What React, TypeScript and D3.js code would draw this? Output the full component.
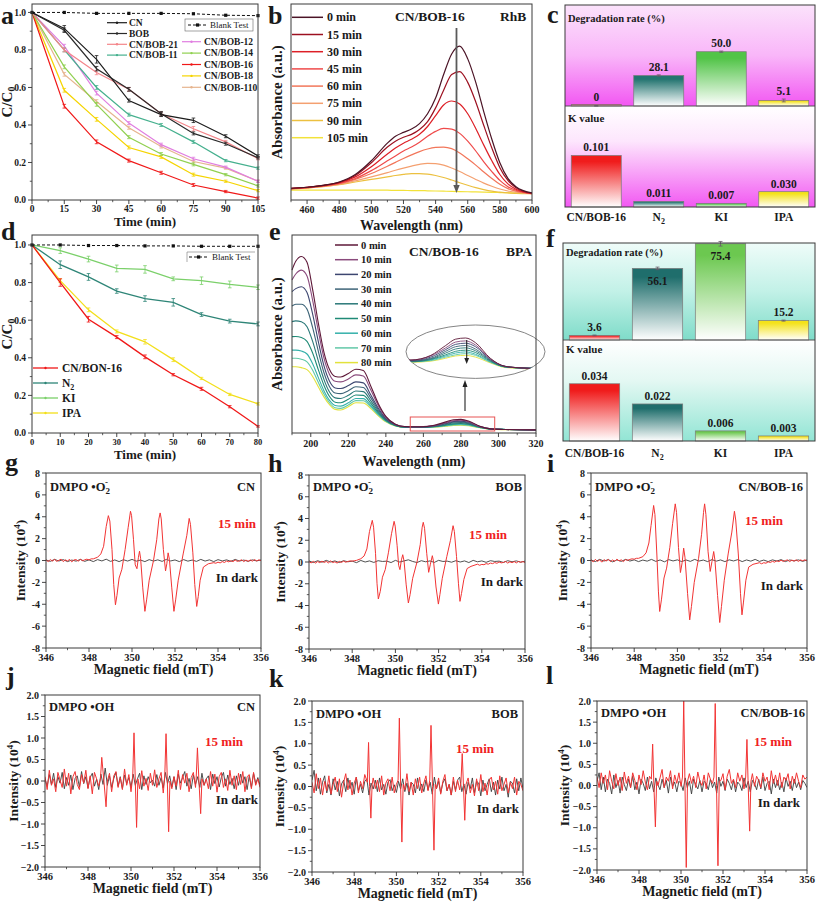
import React from 'react';
import * as d3 from 'd3';

const FONT = '"Liberation Serif","Times New Roman",Times,serif';
const INK = '#1a1a1a';
const AX = '#333333';

/* ---------- (a) RhB degradation ---------- */
const aTime = [0, 15, 30, 45, 60, 75, 90, 105];
const aCN = [1.0, 0.915, 0.75, 0.53, 0.455, 0.425, 0.34, 0.235];
const aBOB = [1.0, 0.905, 0.70, 0.59, 0.46, 0.355, 0.30, 0.225];
const aB21 = [1.0, 0.80, 0.68, 0.59, 0.46, 0.38, 0.31, 0.22];
const aB11 = [1.0, 0.80, 0.60, 0.455, 0.40, 0.31, 0.21, 0.17];
const aB12 = [1.0, 0.82, 0.57, 0.41, 0.295, 0.22, 0.175, 0.10];
const aB14 = [1.0, 0.71, 0.51, 0.335, 0.245, 0.19, 0.135, 0.075];
const aB16 = [1.0, 0.50, 0.31, 0.21, 0.145, 0.08, 0.045, 0.01];
const aB18 = [1.0, 0.585, 0.43, 0.28, 0.23, 0.135, 0.10, 0.05];
const aB110 = [1.0, 0.67, 0.525, 0.385, 0.285, 0.205, 0.17, 0.10];
const aBlank = [1.0, 1.0, 0.995, 0.995, 0.995, 0.993, 0.985, 0.983];
const aCNerr = [0, 0.015, 0.02, 0.008, 0.01, 0.012, 0.008, 0.006];
const aBOBerr = [0, 0.012, 0.012, 0.01, 0.012, 0.008, 0.008, 0.006];
const aB21err = [0, 0.01, 0.012, 0.01, 0.01, 0.012, 0.008, 0.006];
const aSmallErr = [0, 0.01, 0.01, 0.008, 0.008, 0.008, 0.006, 0.006];
const aXTicks = [0, 15, 30, 45, 60, 75, 90, 105];
const ccTicks = [0, 0.2, 0.4, 0.6, 0.8, 1.0];

/* ---------- (d) BPA degradation / scavengers ---------- */
const dTime = [0, 10, 20, 30, 40, 50, 60, 70, 80];
const dB16 = [1.0, 0.80, 0.605, 0.51, 0.405, 0.31, 0.235, 0.14, 0.035];
const dN2 = [1.0, 0.895, 0.83, 0.755, 0.715, 0.695, 0.63, 0.595, 0.58];
const dKI = [1.0, 0.97, 0.925, 0.875, 0.87, 0.82, 0.81, 0.79, 0.775];
const dIPA = [1.0, 0.81, 0.655, 0.54, 0.485, 0.39, 0.29, 0.205, 0.155];
const dBlank = [1.0, 1.0, 0.997, 0.997, 0.995, 0.995, 0.993, 0.993, 0.993];
const dB16err = [0, 0.02, 0.015, 0.008, 0.01, 0.006, 0.008, 0.006, 0.004];
const dN2err = [0, 0.02, 0.018, 0.012, 0.015, 0.02, 0.01, 0.01, 0.01];
const dKIerr = [0, 0.015, 0.015, 0.018, 0.02, 0.01, 0.02, 0.018, 0.012];
const dIPAerr = [0, 0.01, 0.01, 0.008, 0.012, 0.01, 0.006, 0.006, 0.006];
const dXTicks = [0, 10, 20, 30, 40, 50, 60, 70, 80];

/* ---------- (b) RhB spectra ---------- */
const bWave = [450, 460, 470, 480, 490, 500, 510, 515, 520, 525, 530, 535, 540, 545, 550, 555, 560, 565, 570, 575, 580, 585, 590, 600];
const b0 = [0.060, 0.065, 0.075, 0.092, 0.130, 0.200, 0.290, 0.325, 0.345, 0.362, 0.390, 0.440, 0.520, 0.640, 0.745, 0.785, 0.720, 0.600, 0.450, 0.310, 0.190, 0.110, 0.068, 0.036];
const b15 = [0.060, 0.065, 0.075, 0.090, 0.125, 0.190, 0.270, 0.300, 0.320, 0.335, 0.360, 0.400, 0.470, 0.560, 0.640, 0.655, 0.600, 0.500, 0.380, 0.265, 0.165, 0.100, 0.063, 0.035];
const b30 = [0.058, 0.064, 0.073, 0.088, 0.118, 0.170, 0.235, 0.265, 0.290, 0.310, 0.335, 0.375, 0.430, 0.485, 0.505, 0.490, 0.440, 0.365, 0.280, 0.200, 0.130, 0.082, 0.055, 0.034];
const b45 = [0.058, 0.063, 0.072, 0.085, 0.110, 0.150, 0.200, 0.225, 0.250, 0.270, 0.295, 0.325, 0.350, 0.365, 0.362, 0.340, 0.300, 0.250, 0.195, 0.145, 0.100, 0.068, 0.050, 0.033];
const b60 = [0.058, 0.063, 0.072, 0.083, 0.105, 0.135, 0.172, 0.192, 0.212, 0.230, 0.247, 0.260, 0.268, 0.270, 0.262, 0.240, 0.210, 0.178, 0.143, 0.110, 0.080, 0.058, 0.045, 0.032];
const b75 = [0.056, 0.062, 0.070, 0.080, 0.098, 0.118, 0.140, 0.152, 0.163, 0.173, 0.182, 0.187, 0.186, 0.178, 0.163, 0.145, 0.125, 0.105, 0.086, 0.070, 0.056, 0.046, 0.040, 0.032];
const b90 = [0.055, 0.061, 0.068, 0.078, 0.092, 0.105, 0.118, 0.125, 0.131, 0.135, 0.135, 0.132, 0.125, 0.115, 0.102, 0.088, 0.075, 0.063, 0.053, 0.045, 0.040, 0.036, 0.034, 0.032];
const b105 = [0.050, 0.050, 0.050, 0.050, 0.050, 0.050, 0.050, 0.049, 0.049, 0.048, 0.048, 0.047, 0.046, 0.045, 0.044, 0.043, 0.042, 0.041, 0.040, 0.039, 0.038, 0.037, 0.036, 0.035];
const bLabels = ['0 min', '15 min', '30 min', '45 min', '60 min', '75 min', '90 min', '105 min'];
const bXTicks = [460, 480, 500, 520, 540, 560, 580, 600];

/* ---------- (e) BPA spectra ---------- */
const eWave = [190, 192, 195, 198, 201, 204, 207, 210, 213, 216, 220, 224, 228, 232, 236, 240, 245, 250, 258, 266, 272, 276, 280, 284, 290, 296, 304, 320];
const e0 = [0.82, 0.865, 0.89, 0.86, 0.72, 0.55, 0.40, 0.31, 0.275, 0.272, 0.29, 0.312, 0.305, 0.225, 0.135, 0.07, 0.03, 0.018, 0.017, 0.025, 0.042, 0.053, 0.055, 0.047, 0.02, 0.006, 0.003, 0.001];
const e10 = [0.77, 0.80, 0.82, 0.79, 0.665, 0.51, 0.37, 0.285, 0.25, 0.247, 0.262, 0.283, 0.277, 0.205, 0.125, 0.066, 0.03, 0.018, 0.017, 0.024, 0.038, 0.048, 0.05, 0.043, 0.019, 0.006, 0.003, 0.001];
const e20 = [0.71, 0.725, 0.735, 0.705, 0.595, 0.455, 0.33, 0.25, 0.216, 0.213, 0.228, 0.247, 0.242, 0.18, 0.112, 0.06, 0.028, 0.017, 0.016, 0.022, 0.035, 0.044, 0.046, 0.04, 0.018, 0.006, 0.003, 0.001];
const e30 = [0.636, 0.645, 0.645, 0.62, 0.525, 0.405, 0.295, 0.222, 0.19, 0.187, 0.202, 0.222, 0.218, 0.165, 0.103, 0.056, 0.026, 0.016, 0.015, 0.02, 0.032, 0.04, 0.042, 0.036, 0.017, 0.006, 0.003, 0.001];
const e40 = [0.556, 0.56, 0.555, 0.53, 0.455, 0.355, 0.26, 0.195, 0.165, 0.162, 0.178, 0.2, 0.197, 0.15, 0.095, 0.053, 0.025, 0.016, 0.015, 0.019, 0.029, 0.036, 0.038, 0.033, 0.016, 0.005, 0.003, 0.001];
const e50 = [0.479, 0.48, 0.475, 0.455, 0.395, 0.31, 0.23, 0.172, 0.143, 0.14, 0.158, 0.18, 0.178, 0.137, 0.088, 0.05, 0.024, 0.015, 0.014, 0.018, 0.026, 0.032, 0.034, 0.03, 0.015, 0.005, 0.003, 0.001];
const e60 = [0.41, 0.41, 0.405, 0.39, 0.34, 0.27, 0.202, 0.152, 0.126, 0.123, 0.14, 0.162, 0.161, 0.126, 0.082, 0.047, 0.023, 0.015, 0.014, 0.017, 0.024, 0.029, 0.031, 0.027, 0.014, 0.005, 0.003, 0.001];
const e70 = [0.368, 0.368, 0.363, 0.35, 0.307, 0.245, 0.185, 0.14, 0.114, 0.111, 0.129, 0.151, 0.15, 0.118, 0.078, 0.045, 0.022, 0.015, 0.014, 0.016, 0.022, 0.026, 0.028, 0.025, 0.013, 0.005, 0.003, 0.001];
const e80 = [0.325, 0.325, 0.32, 0.31, 0.275, 0.222, 0.17, 0.13, 0.106, 0.103, 0.12, 0.14, 0.139, 0.11, 0.073, 0.042, 0.021, 0.014, 0.013, 0.015, 0.02, 0.024, 0.025, 0.022, 0.012, 0.004, 0.002, 0.0];
const eLabels = ['0 min', '10 min', '20 min', '30 min', '40 min', '50 min', '60 min', '70 min', '80 min'];
const eXTicks = [200, 220, 240, 260, 280, 300, 320];

/* ---------- (c), (f) bars ---------- */
const cats = ['CN/BOB-16', 'N2', 'KI', 'IPA'];
const cRate = [0, 28.1, 50.0, 5.1];
const cRateErr = [0.3, 0.6, 0.6, 1.3];
const cK = [0.101, 0.011, 0.007, 0.030];
const fRate = [3.6, 56.1, 75.4, 15.2];
const fRateErr = [0.3, 1.0, 1.8, 0.4];
const fK = [0.034, 0.022, 0.006, 0.003];

/* ---------- EPR: DMPO-O2- (g,h,i) ---------- */
const fieldTicks = [346, 348, 350, 352, 354, 356];
const o2Ticks = [-8, -6, -4, -2, 0, 2, 4, 6, 8];
const ohTicks = [-2, -1.5, -1, -0.5, 0, 0.5, 1, 1.5, 2];

const gPre = [0.05, -0.1, 0.08, -0.05, 0.1, -0.08, 0.02, 0.12, -0.1, 0.06, -0.04, 0.1, -0.12, 0.05, 0.08, -0.06, 0.1, -0.02, 0.06, 0.12, 0.05, 0.15];
const gPost = [-0.25, -0.15, -0.22, -0.1, -0.18, -0.05, -0.12, -0.02, -0.1, 0.04, -0.08, -0.02, 0.06, -0.1, 0.04, -0.08, 0.05, -0.06, 0.08, -0.04, 0.06, -0.02];
const gSig = [[348.2, 0.15], [348.4, 0.3], [348.55, 0.6], [348.68, 1.3], [348.8, 3.1], [348.9, 4.1], [348.97, 3.6], [349.07, 1.0], [349.15, -2.2], [349.23, -4.05], [349.3, -3.2], [349.4, -1.6], [349.53, -0.8], [349.68, 1.0], [349.82, 3.0], [349.93, 4.5], [349.98, 4.1], [350.07, 1.9], [350.15, -0.4], [350.23, -0.75], [350.3, 0.3], [350.35, 0.85], [350.4, 0.2], [350.5, -2.5], [350.6, -4.65], [350.68, -3.6], [350.8, -1.8], [351.0, 0.0], [351.15, 1.9], [351.25, 3.8], [351.31, 4.35], [351.36, 3.8], [351.46, 1.0], [351.56, -0.95], [351.62, -0.3], [351.68, 0.7], [351.74, 0.1], [351.85, -2.5], [351.95, -4.65], [352.03, -3.6], [352.15, -1.8], [352.38, 0.6], [352.55, 2.3], [352.66, 3.85], [352.72, 3.3], [352.83, 0.7], [352.92, -2.2], [353.01, -4.2], [353.08, -3.3], [353.17, -1.8], [353.32, -0.6], [353.55, -0.3], [353.8, -0.2]];
const gDark = [0.05, -0.08, 0.1, -0.05, 0.08, -0.1, 0.04, -0.06, 0.1, -0.08, 0.06, -0.1, 0.08, -0.04, 0.12, -0.08, 0.05, -0.1, 0.07, -0.05, 0.1, -0.06, 0.04, -0.1, 0.08, -0.05, 0.06, -0.08, 0.1, -0.04, 0.05, -0.1, 0.08, -0.06, 0.04, -0.08, 0.1, -0.05, 0.06, -0.1, 0.08, -0.04, 0.06, -0.08, 0.1, -0.05, 0.04, -0.08, 0.06, -0.04, 0.05];

const hPre = [0.02, -0.08, 0.06, -0.1, 0.04, -0.06, 0.08, -0.04, 0.05, -0.08, 0.1, -0.05, 0.02, -0.1, 0.06, -0.04, 0.08, -0.02, 0.05, 0.1, 0.08, 0.12];
const hPost = [-0.3, -0.22, -0.25, -0.15, -0.2, -0.1, -0.15, -0.05, -0.12, 0.0, -0.08, -0.04, 0.05, -0.1, 0.02, -0.06, 0.04, -0.08, 0.05, -0.02, 0.04, -0.05];
const hSig = [[348.2, 0.15], [348.4, 0.3], [348.55, 0.55], [348.68, 1.2], [348.8, 2.8], [348.93, 3.83], [348.99, 3.2], [349.08, 0.8], [349.15, -2.0], [349.21, -3.4], [349.3, -2.7], [349.4, -1.4], [349.53, -0.7], [349.68, 0.9], [349.82, 2.6], [349.94, 3.74], [349.99, 3.3], [350.08, 1.5], [350.15, -0.3], [350.21, -0.7], [350.28, 0.2], [350.34, 0.67], [350.4, 0.1], [350.5, -2.1], [350.6, -3.77], [350.68, -3.0], [350.8, -1.5], [351.0, 0.0], [351.15, 1.6], [351.24, 3.2], [351.29, 3.65], [351.35, 3.1], [351.45, 0.8], [351.54, -0.95], [351.62, -0.2], [351.71, 0.58], [351.77, 0.0], [351.88, -2.3], [351.99, -3.87], [352.06, -3.0], [352.17, -1.5], [352.38, 0.5], [352.55, 2.0], [352.67, 3.34], [352.73, 2.8], [352.83, 0.5], [352.92, -2.0], [352.99, -3.62], [353.06, -2.9], [353.17, -1.6], [353.32, -0.6], [353.5, -0.4], [353.8, -0.2]];
const hDark = [0.1, -0.05, 0.12, -0.02, 0.15, 0.0, 0.1, -0.05, 0.12, 0.02, 0.08, -0.06, 0.14, 0.0, 0.1, -0.04, 0.12, 0.05, 0.08, -0.05, 0.15, 0.0, 0.1, 0.2, 0.05, -0.05, 0.12, 0.02, 0.1, -0.04, 0.15, 0.05, 0.08, -0.02, 0.12, 0.0, 0.1, -0.05, 0.15, 0.02, 0.1, -0.03, 0.12, 0.05, 0.08, -0.04, 0.12, 0.02, 0.1, -0.02, 0.08];

const iPre = [0.05, -0.12, 0.1, -0.08, 0.06, -0.15, 0.08, -0.05, 0.1, -0.1, 0.05, -0.08, 0.12, -0.04, 0.06, -0.1, 0.08, 0.02, 0.1, 0.15, 0.12, 0.2];
const iPost = [-0.3, -0.2, -0.25, -0.12, -0.18, -0.08, -0.15, -0.02, -0.1, 0.02, -0.08, 0.0, 0.05, -0.1, 0.04, -0.06, 0.06, -0.08, 0.05, -0.02, 0.06, -0.04];
const iSig = [[348.2, 0.2], [348.4, 0.35], [348.55, 0.7], [348.68, 1.6], [348.78, 3.2], [348.9, 5.03], [348.96, 4.2], [349.05, 0.5], [349.12, -2.8], [349.18, -4.66], [349.26, -3.6], [349.38, -1.6], [349.5, -0.7], [349.65, 1.2], [349.78, 3.4], [349.9, 5.18], [349.96, 4.4], [350.05, 1.2], [350.14, -1.1], [350.22, -0.2], [350.29, 1.13], [350.35, 0.3], [350.47, -3.0], [350.57, -5.43], [350.65, -4.2], [350.78, -2.0], [350.98, 0.2], [351.12, 2.4], [351.21, 4.4], [351.26, 5.18], [351.32, 4.2], [351.42, 0.8], [351.52, -1.0], [351.6, -0.1], [351.68, 0.82], [351.74, 0.0], [351.86, -3.2], [351.96, -5.67], [352.04, -4.2], [352.17, -1.8], [352.35, 0.6], [352.52, 2.6], [352.64, 4.5], [352.7, 3.7], [352.82, 0.6], [352.92, -3.0], [352.99, -4.97], [353.06, -3.8], [353.17, -1.8], [353.3, -0.6], [353.5, -0.35], [353.8, -0.2]];
const iDark = [0.05, -0.1, 0.1, -0.05, 0.08, -0.12, 0.05, -0.08, 0.1, -0.05, 0.06, -0.1, 0.04, -0.06, 0.1, -0.08, 0.05, -0.12, 0.08, -0.04, 0.06, -0.1, 0.05, -0.08, 0.1, -0.05, 0.04, -0.1, 0.08, -0.06, 0.05, -0.1, 0.06, -0.04, 0.08, -0.1, 0.05, -0.06, 0.1, -0.08, 0.04, -0.1, 0.06, -0.05, 0.08, -0.1, 0.05, -0.04, 0.06, -0.08, 0.05];

/* ---------- EPR: DMPO-OH (j,k,l) ---------- */
const jRed = [0.1, -0.2, 0.25, -0.1, 0.05, -0.25, 0.2, 0.02, -0.15, 0.28, -0.12, 0.18, -0.3, 0.1, 0.22, -0.08, -0.2, 0.15, -0.05, 0.25, -0.18, 0.12, -0.3, 0.2, 0.05, -0.12, 0.26, -0.22, 0.1, -0.05, 0.18, -0.25, 0.12, 0.22, -0.15, 0.08, -0.2, 0.28, -0.1, 0.15, -0.25, 0.2, -0.05, 0.1, -0.18, 0.24, -0.12, 0.06, -0.22, 0.18, -0.1, 0.26, -0.15, 0.05, 0.2, -0.28, 0.12, -0.08, 0.22, -0.18, 0.1, -0.12, 0.25, -0.2, 0.15, -0.05, 0.18, -0.25, 0.08, 0.2, -0.15, 0.12, -0.22, 0.28, -0.1, 0.05, -0.18, 0.22, -0.12, 0.16, -0.26, 0.1, 0.2, -0.15, 0.05, -0.22, 0.25, -0.1, 0.12, -0.2, 0.18, -0.08, 0.22, -0.25, 0.1, 0.15, -0.18, 0.2, -0.1, 0.05, -0.15];
const jDark = [0.05, -0.12, 0.15, -0.08, 0.18, -0.15, 0.1, -0.05, 0.2, -0.18, 0.08, -0.1, 0.14, -0.2, 0.06, 0.12, -0.14, 0.22, -0.06, 0.1, -0.16, 0.08, 0.18, -0.12, 0.04, -0.2, 0.16, -0.08, 0.3, -0.1, 0.12, -0.15, 0.06, 0.2, -0.12, 0.1, -0.18, 0.14, -0.06, 0.08, -0.14, 0.16, -0.1, 0.05, 0.18, -0.2, 0.12, -0.08, 0.1, -0.04, 0.02, -0.12, 0.15, -0.1, 0.08, -0.16, 0.2, -0.06, 0.12, -0.14, 0.1, -0.2, 0.16, -0.05, 0.08, 0.22, -0.12, 0.06, -0.18, 0.14, -0.08, 0.1, -0.15, 0.18, -0.1, 0.05, 0.12, -0.2, 0.16, -0.06, 0.1, -0.14, 0.08, 0.2, -0.12, 0.14, -0.08, 0.06, -0.18, 0.12, -0.1, 0.16, -0.05, 0.1, -0.2, 0.12, -0.15, 0.18, -0.06, 0.08, -0.1];
const jPeaks = [
  [[348.58, 0.05], [348.64, 0.55], [348.74, 0.0], [348.84, -0.6], [348.9, 0.0]],
  [[350.08, 0.1], [350.14, 1.12], [350.2, 0.0], [350.26, -1.08], [350.32, 0.05]],
  [[351.57, 0.1], [351.63, 1.1], [351.69, 0.0], [351.75, -1.18], [351.81, 0.0]],
  [[353.03, 0.05], [353.09, 0.77], [353.16, 0.0], [353.24, -0.76], [353.3, 0.05]],
];
const kRed = [0.1, -0.15, 0.3, -0.05, 0.2, -0.2, 0.12, -0.1, 0.25, -0.18, 0.05, 0.22, -0.12, 0.18, -0.25, 0.1, 0.3, -0.08, 0.15, -0.2, 0.08, 0.22, -0.15, 0.12, -0.05, 0.28, -0.18, 0.1, -0.22, 0.2, -0.05, 0.15, -0.12, 0.25, -0.2, 0.08, 0.18, -0.1, 0.22, -0.15, 0.05, 0.2, -0.25, 0.12, -0.08, 0.3, -0.12, 0.1, -0.2, 0.18, -0.05, 0.22, -0.15, 0.08, 0.25, -0.1, 0.15, -0.22, 0.1, -0.05, 0.2, -0.18, 0.12, 0.28, -0.1, 0.05, -0.2, 0.22, -0.12, 0.15, -0.08, 0.25, -0.18, 0.1, 0.2, -0.15, 0.05, -0.22, 0.18, -0.1, 0.28, -0.12, 0.08, -0.2, 0.15, 0.22, -0.08, 0.12, -0.18, 0.25, -0.1, 0.05, 0.2, -0.15, 0.1, -0.05, 0.22, -0.2, 0.12, 0.05, -0.1];
const kDark = [0.15, 0.38, -0.1, 0.2, -0.18, 0.1, 0.25, -0.15, 0.05, -0.2, 0.18, -0.08, 0.12, -0.22, 0.06, 0.15, -0.12, 0.2, -0.05, 0.1, -0.18, 0.22, -0.1, 0.05, -0.15, 0.12, 0.18, -0.2, 0.08, -0.06, 0.15, -0.12, 0.2, -0.08, 0.05, -0.18, 0.1, 0.16, -0.1, 0.04, -0.14, 0.12, -0.06, 0.18, -0.12, 0.08, -0.2, 0.1, 0.05, -0.15, 0.2, -0.1, 0.06, -0.12, 0.15, -0.08, 0.1, -0.18, 0.22, -0.05, 0.12, -0.15, 0.08, 0.18, -0.1, 0.05, -0.2, 0.12, -0.08, 0.15, 0.22, -0.12, 0.06, -0.18, 0.1, -0.05, 0.2, -0.15, 0.12, 0.08, -0.22, 0.15, -0.1, 0.05, 0.18, -0.12, 0.1, -0.2, 0.15, -0.06, 0.22, -0.1, 0.05, -0.25, 0.12, 0.08, -0.15, 0.18, -0.1, 0.2, -0.05];
const kPeaks = [
  [[348.62, 0.1], [348.68, 1.03], [348.73, 0.0], [348.79, -0.74], [348.85, 0.05]],
  [[350.08, 0.15], [350.14, 1.6], [350.2, 0.0], [350.26, -1.3], [350.32, 0.05]],
  [[351.58, 0.15], [351.64, 1.43], [351.71, 0.0], [351.78, -1.49], [351.84, 0.05]],
  [[353.06, 0.1], [353.12, 0.77], [353.18, 0.0], [353.24, -0.79], [353.3, 0.05]],
];
const lRed = [0.2, -0.05, 0.3, 0.05, 0.25, -0.1, 0.35, 0.1, -0.08, 0.28, 0.0, 0.2, -0.12, 0.32, 0.05, 0.22, -0.05, 0.3, 0.12, -0.1, 0.25, 0.02, 0.35, 0.08, -0.1, 0.22, 0.15, -0.05, 0.3, 0.0, 0.18, 0.38, -0.05, 0.2, 0.1, 0.35, -0.08, 0.25, 0.05, 0.3, -0.02, 0.2, 0.12, -0.1, 0.28, 0.05, 0.22, -0.05, 0.32, 0.1, 0.0, 0.25, -0.08, 0.3, 0.15, 0.05, 0.35, -0.05, 0.2, 0.12, 0.28, -0.1, 0.22, 0.38, 0.05, 0.15, -0.05, 0.3, 0.1, 0.25, -0.08, 0.2, 0.5, 0.05, 0.28, -0.02, 0.22, 0.12, -0.05, 0.3, 0.1, 0.2, -0.1, 0.35, 0.05, 0.25, 0.0, 0.3, -0.05, 0.2, 0.12, 0.28, -0.08, 0.22, 0.05, 0.3, 0.1, -0.05, 0.25, 0.15, 0.2];
const lDark = [0.1, 0.3, -0.1, 0.2, -0.15, 0.15, 0.05, -0.2, 0.25, -0.05, 0.12, -0.18, 0.2, 0.02, -0.12, 0.15, -0.05, 0.22, -0.1, 0.08, -0.2, 0.15, 0.05, -0.12, 0.2, -0.08, 0.1, -0.15, 0.18, 0.02, -0.1, 0.15, -0.05, 0.12, -0.18, 0.2, -0.02, 0.08, -0.15, 0.1, 0.05, -0.12, 0.18, -0.05, 0.1, -0.2, 0.15, 0.02, -0.08, 0.12, -0.15, 0.1, 0.05, -0.1, 0.15, -0.05, 0.08, -0.18, 0.2, -0.02, 0.1, -0.12, 0.15, 0.05, -0.1, 0.12, -0.15, 0.08, 0.02, -0.12, 0.18, -0.05, 0.1, -0.15, 0.12, 0.05, -0.1, 0.15, -0.08, 0.2, -0.12, 0.05, 0.1, -0.2, 0.15, -0.05, 0.12, -0.1, 0.08, -0.15, 0.18, -0.02, 0.1, -0.12, 0.15, -0.05, 0.08, -0.1, 0.12, 0.05, -0.05];
const lPeaks = [
  [[348.59, 0.15], [348.65, 0.98], [348.71, 0.0], [348.78, -0.98], [348.84, 0.1]],
  [[350.07, 0.2], [350.13, 2.0], [350.19, 0.0], [350.25, -1.94], [350.31, 0.1]],
  [[351.57, 0.2], [351.63, 1.94], [351.69, 0.0], [351.76, -1.9], [351.82, 0.1]],
  [[353.08, 0.2], [353.14, 1.09], [353.2, 0.0], [353.27, -1.08], [353.33, 0.1]],
];

/* ================= helpers ================= */
function Txt(p: any) {
  const { x, y, size = 11, anchor = 'start', fill = INK, rotate, children, weight = 'bold' } = p;
  return (
    <text x={x} y={y} fontSize={size} fontWeight={weight} fill={fill} textAnchor={anchor} fontFamily={FONT}
      transform={rotate != null ? `rotate(${rotate} ${x} ${y})` : undefined}>{children}</text>
  );
}

function XAxis({ s, y, major, minor = [], fmt = (v: any) => String(v), size = 10, len = 4, dy = 12.5 }: any) {
  return (
    <g>
      {minor.map((v: number, i: number) => <line key={'n' + i} x1={s(v)} x2={s(v)} y1={y} y2={y + len * 0.55} stroke={AX} strokeWidth={0.8} />)}
      {major.map((v: number, i: number) => (
        <g key={i}>
          <line x1={s(v)} x2={s(v)} y1={y} y2={y + len} stroke={AX} strokeWidth={0.9} />
          <Txt x={s(v)} y={y + dy} size={size} anchor="middle">{fmt(v)}</Txt>
        </g>
      ))}
    </g>
  );
}

function YAxis({ s, x, major, minor = [], fmt = (v: any) => String(v), size = 10, len = 4 }: any) {
  return (
    <g>
      {minor.map((v: number, i: number) => <line key={'n' + i} x1={x} x2={x - len * 0.55} y1={s(v)} y2={s(v)} stroke={AX} strokeWidth={0.8} />)}
      {major.map((v: number, i: number) => (
        <g key={i}>
          <line x1={x} x2={x - len} y1={s(v)} y2={s(v)} stroke={AX} strokeWidth={0.9} />
          <Txt x={x - len - 2} y={s(v) + size * 0.35} size={size} anchor="end">{fmt(v)}</Txt>
        </g>
      ))}
    </g>
  );
}

function Frame({ L, Tp, R, B }: any) {
  return <rect x={L} y={Tp} width={R - L} height={B - Tp} fill="none" stroke="#3a3a3a" strokeWidth={1} />;
}

function ErrBars({ xs, ys, es, sx, sy, color, cap = 1.8 }: any) {
  return (
    <g>
      {ys.map((v: number, i: number) => {
        if (!es[i]) return null;
        const x = sx(xs[i]);
        const y1 = sy(v - es[i]);
        const y2 = sy(v + es[i]);
        return (
          <g key={i} stroke={color} strokeWidth={0.8}>
            <line x1={x} x2={x} y1={y1} y2={y2} />
            <line x1={x - cap} x2={x + cap} y1={y1} y2={y1} />
            <line x1={x - cap} x2={x + cap} y1={y2} y2={y2} />
          </g>
        );
      })}
    </g>
  );
}

function Letter({ x, y, ch }: any) {
  return <Txt x={x} y={y} size={26}>{ch}</Txt>;
}

const fmt1 = d3.format('.1f');

/* ================= (a) ================= */
function PanelA() {
  const L = 32, R = 258, Tp = 4, B = 200;
  const sx = d3.scaleLinear().domain([0, 105]).range([L, R]);
  const sy = d3.scaleLinear().domain([0, 1.045]).range([B, Tp]);
  const line = (vals: number[]) => d3.line<number>().x((_, i) => sx(aTime[i])).y(d => sy(d))(vals) as string;
  const series = [
    { n: 'CN', v: aCN, e: aCNerr, c: '#1c1c1c' },
    { n: 'BOB', v: aBOB, e: aBOBerr, c: '#2a2a2a' },
    { n: 'CN/BOB-21', v: aB21, e: aB21err, c: '#f4858a' },
    { n: 'CN/BOB-11', v: aB11, e: aSmallErr, c: '#45b08e' },
    { n: 'CN/BOB-12', v: aB12, e: aSmallErr, c: '#e07ee0' },
    { n: 'CN/BOB-14', v: aB14, e: aSmallErr, c: '#90d050' },
    { n: 'CN/BOB-16', v: aB16, e: aSmallErr, c: '#f01818' },
    { n: 'CN/BOB-18', v: aB18, e: aSmallErr, c: '#f5d400' },
    { n: 'CN/BOB-110', v: aB110, e: aSmallErr, c: '#e6b48e' },
  ];
  const col1 = series.slice(0, 4);
  const col2 = series.slice(4);
  return (
    <g>
      <rect x={L} y={Tp} width={R - L} height={B - Tp} fill="#fff" />
      {[...series].reverse().map((s, i) => (
        <g key={i}>
          <path d={line(s.v)} fill="none" stroke={s.c} strokeWidth={1.2} />
          <ErrBars xs={aTime} ys={s.v} es={s.e} sx={sx} sy={sy} color={s.c} />
        </g>
      ))}
      <path d={line(aBlank)} fill="none" stroke="#111" strokeWidth={1} strokeDasharray="3,2" />
      {aBlank.map((v, i) => <rect key={i} x={sx(aTime[i]) - 1.6} y={sy(v) - 1.6} width={3.2} height={3.2} fill="#111" />)}
      <Frame L={L} Tp={Tp} R={R} B={B} />
      <XAxis s={sx} y={B} major={aXTicks} minor={[7.5, 22.5, 37.5, 52.5, 67.5, 82.5, 97.5]} size={9.5} dy={11.5} />
      <YAxis s={sy} x={L} major={ccTicks} minor={[0.1, 0.3, 0.5, 0.7, 0.9]} fmt={fmt1} size={9.5} />
      {col1.map((s, i) => {
        const y = 22.7 + i * 10.8;
        return (
          <g key={i}>
            <line x1={107} x2={127} y1={y} y2={y} stroke={s.c} strokeWidth={1.2} />
            <circle cx={117} cy={y} r={1.2} fill={s.c} />
            <Txt x={129} y={y + 3.3} size={9.5}>{s.n}</Txt>
          </g>
        );
      })}
      {col2.map((s, i) => {
        const y = 41.7 + i * 11.4;
        return (
          <g key={i}>
            <line x1={182} x2={201} y1={y} y2={y} stroke={s.c} strokeWidth={1.2} />
            <circle cx={191.5} cy={y} r={1.2} fill={s.c} />
            <Txt x={204} y={y + 3.3} size={9.5}>{s.n}</Txt>
          </g>
        );
      })}
      <rect x={185} y={19} width={68} height={12} fill="#fff" stroke="#666" strokeWidth={0.6} />
      <line x1={188} x2={207} y1={25} y2={25} stroke="#111" strokeDasharray="3,2" />
      <rect x={196} y={23.4} width={3.2} height={3.2} fill="#111" />
      <Txt x={210} y={28.3} size={9} weight="normal">Blank Test</Txt>
      <Txt x={12} y={(Tp + B) / 2} size={15} anchor="middle" rotate={-90}>C/C<tspan dy={3} fontSize={10}>0</tspan></Txt>
      <Txt x={(L + R) / 2} y={226} size={13} anchor="middle">Time (min)</Txt>
      <Letter x={1} y={24} ch="a" />
    </g>
  );
}

/* ================= (d) ================= */
function PanelD() {
  const L = 32, R = 258, Tp = 235, B = 433;
  const sx = d3.scaleLinear().domain([0, 80]).range([L, R]);
  const sy = d3.scaleLinear().domain([0, 1.053]).range([B, Tp]);
  const line = (vals: number[]) => d3.line<number>().x((_, i) => sx(dTime[i])).y(d => sy(d))(vals) as string;
  const series = [
    { n: 'CN/BON-16', v: dB16, e: dB16err, c: '#f01818' },
    { n: 'N2', v: dN2, e: dN2err, c: '#2e8577' },
    { n: 'KI', v: dKI, e: dKIerr, c: '#7bd06a' },
    { n: 'IPA', v: dIPA, e: dIPAerr, c: '#f3df1a' },
  ];
  const ly = [368, 383, 398, 413];
  return (
    <g>
      {[...series].reverse().map((s, i) => (
        <g key={i}>
          <path d={line(s.v)} fill="none" stroke={s.c} strokeWidth={1.3} />
          <ErrBars xs={dTime} ys={s.v} es={s.e} sx={sx} sy={sy} color={s.c} />
        </g>
      ))}
      <path d={line(dBlank)} fill="none" stroke="#111" strokeWidth={1} strokeDasharray="3,2" />
      {dBlank.map((v, i) => <rect key={i} x={sx(dTime[i]) - 1.6} y={sy(v) - 1.6} width={3.2} height={3.2} fill="#111" />)}
      <Frame L={L} Tp={Tp} R={R} B={B} />
      <XAxis s={sx} y={B} major={dXTicks} minor={[5, 15, 25, 35, 45, 55, 65, 75]} size={8.5} dy={12} />
      <YAxis s={sy} x={L} major={ccTicks} minor={[0.1, 0.3, 0.5, 0.7, 0.9]} fmt={fmt1} size={9.5} />
      <line x1={187} x2={255} y1={252} y2={252} stroke="#777" strokeWidth={0.6} />
      <line x1={187} x2={187} y1={252} y2={262} stroke="#777" strokeWidth={0.6} />
      <line x1={189} x2={208} y1={257} y2={257} stroke="#111" strokeDasharray="3,2" />
      <rect x={197} y={255.4} width={3.2} height={3.2} fill="#111" />
      <Txt x={212} y={260.3} size={9} weight="normal">Blank Test</Txt>
      {series.map((s, i) => (
        <g key={i}>
          <line x1={33} x2={58} y1={ly[i]} y2={ly[i]} stroke={s.c} strokeWidth={1.3} />
          <circle cx={45.5} cy={ly[i]} r={1.2} fill={s.c} />
          <Txt x={62} y={ly[i] + 4} size={11.5}>
            {s.n === 'N2' ? <>N<tspan dy={3} fontSize={8}>2</tspan></> : s.n}
          </Txt>
        </g>
      ))}
      <Txt x={12} y={(Tp + B) / 2} size={15} anchor="middle" rotate={-90}>C/C<tspan dy={3} fontSize={10}>0</tspan></Txt>
      <Txt x={(L + R) / 2} y={459} size={13} anchor="middle">Time (min)</Txt>
      <Letter x={1} y={240} ch="d" />
    </g>
  );
}

/* ================= (b) ================= */
function PanelB() {
  const L = 291, R = 532, Tp = 4, B = 200;
  const sx = d3.scaleLinear().domain([450, 600]).range([L, R]);
  const sy = d3.scaleLinear().domain([0, 1]).range([B, Tp]);
  const curves = [b0, b15, b30, b45, b60, b75, b90, b105];
  const colors = ['#4b1426', '#9c1020', '#dd1f26', '#ef4a4a', '#f2765a', '#f4a070', '#ecc040', '#f2e23a'];
  const line = (vals: number[]) => d3.line<number>().x((_, i) => sx(bWave[i])).y(d => sy(d)).curve(d3.curveMonotoneX)(vals) as string;
  const ax = sx(553);
  return (
    <g>
      {curves.map((c, i) => <path key={i} d={line(c)} fill="none" stroke={colors[i]} strokeWidth={1.2} />).reverse()}
      <line x1={ax} x2={ax} y1={28} y2={186} stroke="#5a5a5a" strokeWidth={1.8} />
      <polygon points={`${ax - 3.2},${185} ${ax + 3.2},${185} ${ax},${193}`} fill="#5a5a5a" />
      <Frame L={L} Tp={Tp} R={R} B={B} />
      <XAxis s={sx} y={B} major={bXTicks} minor={[450, 470, 490, 510, 530, 550, 570, 590]} size={10} />
      {bLabels.map((t, i) => {
        const y = 17.3 + i * 17.2;
        return (
          <g key={i}>
            <line x1={292} x2={323} y1={y} y2={y} stroke={colors[i]} strokeWidth={1.5} />
            <Txt x={327} y={y + 4} size={12}>{t}</Txt>
          </g>
        );
      })}
      <Txt x={395} y={20.5} size={13.5}>CN/BOB-16</Txt>
      <Txt x={500} y={20.5} size={13.5}>RhB</Txt>
      <Txt x={282} y={(Tp + B) / 2} size={15} anchor="middle" rotate={-90}>Absorbance (a.u.)</Txt>
      <Txt x={(L + R) / 2} y={230} size={14} anchor="middle">Wavelength (nm)</Txt>
      <Letter x={268} y={24} ch="b" />
    </g>
  );
}

/* ================= (e) ================= */
function PanelE() {
  const L = 292, R = 536, Tp = 235, B = 433;
  const sx = d3.scaleLinear().domain([190, 320]).range([L, R]);
  const sy = d3.scaleLinear().domain([-0.015, 1]).range([B, Tp]);
  const curves = [e0, e10, e20, e30, e40, e50, e60, e70, e80];
  const colors = ['#5e1838', '#8a4a7c', '#3c4670', '#3d6478', '#2a7878', '#1f8a76', '#34b0aa', '#62c8a8', '#e2e23c'];
  const line = (vals: number[]) => d3.line<number>().x((_, i) => sx(eWave[i])).y(d => sy(d)).curve(d3.curveMonotoneX)(vals) as string;
  const ix = d3.scaleLinear().domain([256, 306]).range([406, 530]);
  const iy = d3.scaleLinear().domain([0.017, 0.055]).range([360, 338]);
  const idx = eWave.map((w, i) => i).filter(i => eWave[i] >= 250);
  const iline = (vals: number[]) => d3.line<number>().x(i => ix(eWave[i])).y(i => iy(vals[i])).curve(d3.curveMonotoneX)(idx) as string;
  return (
    <g>
      <defs>
        <clipPath id="eClip"><ellipse cx={475.5} cy={351.7} rx={69.5} ry={26.7} /></clipPath>
      </defs>
      {curves.map((c, i) => <path key={i} d={line(c)} fill="none" stroke={colors[i]} strokeWidth={1.1} />).reverse()}
      <rect x={sx(253)} y={417} width={sx(298) - sx(253)} height={14} fill="none" stroke="#e85454" strokeWidth={1} />
      <ellipse cx={475.5} cy={351.7} rx={69.5} ry={26.7} fill="#fff" stroke="#777" strokeWidth={0.9} />
      <g clipPath="url(#eClip)">
        {curves.map((c, i) => <path key={i} d={iline(c)} fill="none" stroke={colors[i]} strokeWidth={0.9} />).reverse()}
      </g>
      <line x1={466.7} x2={466.7} y1={340} y2={359} stroke="#222" strokeWidth={1.1} />
      <polygon points="464.3,358 469.1,358 466.7,364" fill="#222" />
      <line x1={465} x2={465} y1={411} y2={386} stroke="#222" strokeWidth={1.1} />
      <polygon points="462.5,387 467.5,387 465,380" fill="#222" />
      <Frame L={L} Tp={Tp} R={R} B={B} />
      <XAxis s={sx} y={B} major={eXTicks} minor={[190, 210, 230, 250, 270, 290, 310]} size={10} dy={14} />
      {eLabels.map((t, i) => {
        const y = 245 + i * 14.7;
        return (
          <g key={i}>
            <line x1={335} x2={358} y1={y} y2={y} stroke={colors[i]} strokeWidth={1.5} />
            <Txt x={361} y={y + 3.6} size={10.5}>{t}</Txt>
          </g>
        );
      })}
      <Txt x={409} y={256} size={13.5}>CN/BOB-16</Txt>
      <Txt x={506} y={256} size={13.5}>BPA</Txt>
      <Txt x={282} y={(Tp + B) / 2} size={15} anchor="middle" rotate={-90}>Absorbance (a.u.)</Txt>
      <Txt x={(L + R) / 2} y={466} size={14} anchor="middle">Wavelength (nm)</Txt>
      <Letter x={269} y={240} ch="e" />
    </g>
  );
}

/* ================= (c)/(f) ================= */
function BarPanel(p: any) {
  const { id, L, R, Tp, M, B, rate, rateErr, kv, rateMax, kMax, bgTop, bgBot, barColors, catY, insideMin, head1, head2, letter } = p;
  const bx = d3.scaleBand<string>().domain(cats).range([L, R]).paddingInner(0.2).paddingOuter(0.1);
  const y1 = d3.scaleLinear().domain([0, rateMax]).range([M, Tp]);
  const y2 = d3.scaleLinear().domain([0, kMax]).range([B, M]);
  const bw = bx.bandwidth();
  const stops = (arr: any[]) => arr.map((s: any, i: number) => <stop key={i} offset={s[0]} stopColor={s[1]} />);
  return (
    <g>
      <defs>
        <linearGradient id={id + 'bt'} x1="0" y1="0" x2="0" y2="1">{stops(bgTop)}</linearGradient>
        <linearGradient id={id + 'bb'} x1="0" y1="0" x2="0" y2="1">{stops(bgBot)}</linearGradient>
        {barColors.map((c: string, i: number) => (
          <linearGradient key={i} id={id + 'g' + i} x1="0" y1="0" x2="0" y2="1">
            <stop offset="0" stopColor={c} />
            <stop offset="0.12" stopColor={c} />
            <stop offset="1" stopColor="#ffffff" />
          </linearGradient>
        ))}
      </defs>
      <rect x={L} y={Tp} width={R - L} height={M - Tp} fill={`url(#${id}bt)`} />
      <rect x={L} y={M} width={R - L} height={B - M} fill={`url(#${id}bb)`} />
      {rate.map((v: number, i: number) => {
        const x = bx(cats[i]) as number;
        const yt = Math.min(y1(v), M - 1.5);
        const inside = v > insideMin;
        const ey1 = y1(v + rateErr[i]);
        const ey2 = y1(Math.max(0, v - rateErr[i]));
        const lab = v === 0 ? '0' : v.toFixed(1);
        return (
          <g key={'r' + i}>
            <rect x={x} y={yt} width={bw} height={M - yt} fill={`url(#${id}g${i})`} stroke="#7a7a7a" strokeWidth={0.7} />
            <g stroke="#6a5a6a" strokeWidth={0.8}>
              <line x1={x + bw / 2} x2={x + bw / 2} y1={ey1} y2={ey2} />
              <line x1={x + bw / 2 - 2} x2={x + bw / 2 + 2} y1={ey1} y2={ey1} />
              <line x1={x + bw / 2 - 2} x2={x + bw / 2 + 2} y1={ey2} y2={ey2} />
            </g>
            <Txt x={x + bw / 2} y={inside ? yt + 16.5 : Math.min(yt, ey1) - 4} size={11.5} anchor="middle">{lab}</Txt>
          </g>
        );
      })}
      {kv.map((v: number, i: number) => {
        const x = bx(cats[i]) as number;
        const yt = y2(v);
        return (
          <g key={'k' + i}>
            <rect x={x} y={yt} width={bw} height={B - yt} fill={`url(#${id}g${i})`} stroke="#7a7a7a" strokeWidth={0.7} />
            <Txt x={x + bw / 2} y={yt - 4} size={11.5} anchor="middle">{v.toFixed(3)}</Txt>
          </g>
        );
      })}
      <line x1={L} x2={R} y1={M} y2={M} stroke="#555" strokeWidth={1} />
      <Frame L={L} Tp={Tp} R={R} B={B} />
      <Txt x={head1[0]} y={head1[1]} size={10.5}>Degradation rate (%)</Txt>
      <Txt x={head2[0]} y={head2[1]} size={11}>K value</Txt>
      {cats.map((c, i) => (
        <Txt key={i} x={(bx(c) as number) + bw / 2} y={catY} size={11.5} anchor="middle">
          {c === 'N2' ? <>N<tspan dy={3} fontSize={8}>2</tspan></> : c}
        </Txt>
      ))}
      <Letter x={letter[0]} y={letter[1]} ch={letter[2]} />
    </g>
  );
}

/* ================= EPR ================= */
function grid(vals: number[], a: number, b: number) {
  const n = vals.length;
  return vals.map((v, i) => [a + ((b - a) * i) / (n - 1), v]);
}
function merge(base: number[][], clusters: number[][][]) {
  const kept = base.filter(([x]) => !clusters.some(c => x >= c[0][0] - 0.02 && x <= c[c.length - 1][0] + 0.02));
  return kept.concat(...clusters).sort((p, q) => p[0] - q[0]);
}

function EPR(p: any) {
  const { id, L, R, Tp, B, yMax, yMajor, yMinor, yFmt, dark, red, o2, sample, dmpoY, min15, dark15, ytx, letter } = p;
  const sx = d3.scaleLinear().domain([346, 356]).range([L, R]);
  const sy = d3.scaleLinear().domain([-yMax, yMax]).range([B, Tp]);
  const ln = d3.line<number[]>().x(d => sx(d[0])).y(d => sy(d[1]));
  return (
    <g>
      <defs>
        <clipPath id={id}><rect x={L} y={Tp} width={R - L} height={B - Tp} /></clipPath>
      </defs>
      <g clipPath={`url(#${id})`}>
        <path d={ln(dark) as string} fill="none" stroke="#3c3c3c" strokeWidth={0.9} />
        <path d={ln(red) as string} fill="none" stroke="#f23434" strokeWidth={1} />
      </g>
      <Frame L={L} Tp={Tp} R={R} B={B} />
      <XAxis s={sx} y={B} major={fieldTicks} minor={[347, 349, 351, 353, 355]} size={10.5} dy={12.5} />
      <YAxis s={sy} x={L} major={yMajor} minor={yMinor} fmt={yFmt} size={10} />
      <Txt x={L + 4} y={dmpoY} size={12.5}>
        {o2 ? <>DMPO •O<tspan dy={3} fontSize={9}>2</tspan><tspan dx={-5} dy={-9} fontSize={9}>-</tspan></> : 'DMPO •OH'}
      </Txt>
      <Txt x={sample[0]} y={dmpoY} size={12.5} anchor="end">{sample[1]}</Txt>
      <Txt x={min15[0]} y={min15[1]} size={13} anchor="end" fill="#f02020">15 min</Txt>
      <Txt x={dark15[0]} y={dark15[1]} size={13} anchor="end">In dark</Txt>
      <Txt x={ytx} y={(Tp + B) / 2} size={13.5} anchor="middle" rotate={-90}>Intensity (10<tspan dy={-5} fontSize={9}>4</tspan><tspan dy={5}>)</tspan></Txt>
      <Txt x={(L + R) / 2} y={B + 26} size={14} anchor="middle">Magnetic field (mT)</Txt>
      <Letter x={letter[0]} y={letter[1]} ch={letter[2]} />
    </g>
  );
}

export default function App() {
  const o2Minor = [-7, -5, -3, -1, 1, 3, 5, 7];
  const ohMinor = [-1.75, -1.25, -0.75, -0.25, 0.25, 0.75, 1.25, 1.75];
  const gRed = [...grid(gPre, 346, 348.1), ...gSig, ...grid(gPost, 353.9, 356)];
  const hRed = [...grid(hPre, 346, 348.1), ...hSig, ...grid(hPost, 353.9, 356)];
  const iRed = [...grid(iPre, 346, 348.1), ...iSig, ...grid(iPost, 353.9, 356)];
  const pinkTop = [[0, '#fbe2fb'], [0.5, '#f9b6f9'], [1, '#f257f2']];
  const pinkBot = [[0, '#ffffff'], [0.35, '#fde6fd'], [1, '#f258f2']];
  const aquaTop = [[0, '#effcf9'], [0.5, '#c2f1e7'], [1, '#7fdcc9']];
  const aquaBot = [[0, '#ffffff'], [0.4, '#e4f8f3'], [1, '#92e5d4']];
  return (
    <div style={{ position: 'absolute', left: 0, top: 0, width: 817, height: 903, background: '#fff' }}>
      <svg width={817} height={903} viewBox="0 0 817 903" style={{ display: 'block' }}>
        <rect width={817} height={903} fill="#fff" />
        <PanelA />
        <PanelB />
        <BarPanel id="pc" L={565} R={815} Tp={5} M={106} B={207} rate={cRate} rateErr={cRateErr} kv={cK}
          rateMax={93} kMax={0.198} bgTop={pinkTop} bgBot={pinkBot}
          barColors={['#f01c1c', '#237470', '#52c448', '#f4e21a']} catY={221} insideMin={1e9}
          head1={[568, 22]} head2={[568, 122]} letter={[547, 23, 'c']} />
        <PanelD />
        <PanelE />
        <BarPanel id="pf" L={563} R={815} Tp={243} M={340} B={441} rate={fRate} rateErr={fRateErr} kv={fK}
          rateMax={76} kMax={0.06} bgTop={aquaTop} bgBot={aquaBot}
          barColors={['#f01c1c', '#1f6e6c', '#6cc850', '#f4e21a']} catY={457} insideMin={40}
          head1={[566, 256]} head2={[566, 353]} letter={[546, 247, 'f']} />
        <EPR id="cg" L={46} R={261} Tp={473} B={648} yMax={8} yMajor={o2Ticks} yMinor={o2Minor} yFmt={(v: number) => String(v)}
          dark={grid(gDark, 346, 356)} red={gRed} o2 sample={[255, 'CN']} dmpoY={491}
          min15={[256, 528]} dark15={[258, 582]} ytx={25} letter={[5, 471, 'g']} />
        <EPR id="ch" L={309} R={525} Tp={475} B={649} yMax={8} yMajor={o2Ticks} yMinor={o2Minor} yFmt={(v: number) => String(v)}
          dark={grid(hDark, 346, 356)} red={hRed} o2 sample={[522, 'BOB']} dmpoY={491}
          min15={[507, 539]} dark15={[523, 586]} ytx={285} letter={[268, 472, 'h']} />
        <EPR id="ci" L={591} R={807} Tp={473} B={648} yMax={8} yMajor={o2Ticks} yMinor={o2Minor} yFmt={(v: number) => String(v)}
          dark={grid(iDark, 346, 356)} red={iRed} o2 sample={[803, 'CN/BOB-16']} dmpoY={491}
          min15={[783, 525]} dark15={[803, 590]} ytx={567} letter={[547, 472, 'i']} />
        <EPR id="cj" L={45} R={260} Tp={695} B={867} yMax={2} yMajor={ohTicks} yMinor={ohMinor} yFmt={fmt1}
          dark={grid(jDark, 346, 356)} red={merge(grid(jRed, 346, 356), jPeaks)} o2={false} sample={[255, 'CN']} dmpoY={711}
          min15={[243, 746]} dark15={[258, 804]} ytx={18} letter={[6, 685, 'j']} />
        <EPR id="ck" L={312} R={523} Tp={701} B={872} yMax={2} yMajor={ohTicks} yMinor={ohMinor} yFmt={fmt1}
          dark={grid(kDark, 346, 356)} red={merge(grid(kRed, 346, 356), kPeaks)} o2={false} sample={[518, 'BOB']} dmpoY={717.5}
          min15={[494, 752.5]} dark15={[519, 812.5]} ytx={284} letter={[269, 687, 'k']} />
        <EPR id="cl" L={597} R={807} Tp={701} B={870} yMax={2} yMajor={ohTicks} yMinor={ohMinor} yFmt={fmt1}
          dark={grid(lDark, 346, 356)} red={merge(grid(lRed, 346, 356), lPeaks)} o2={false} sample={[805, 'CN/BOB-16']} dmpoY={717}
          min15={[792, 746]} dark15={[800, 807]} ytx={569} letter={[546, 684, 'l']} />
      </svg>
    </div>
  );
}
